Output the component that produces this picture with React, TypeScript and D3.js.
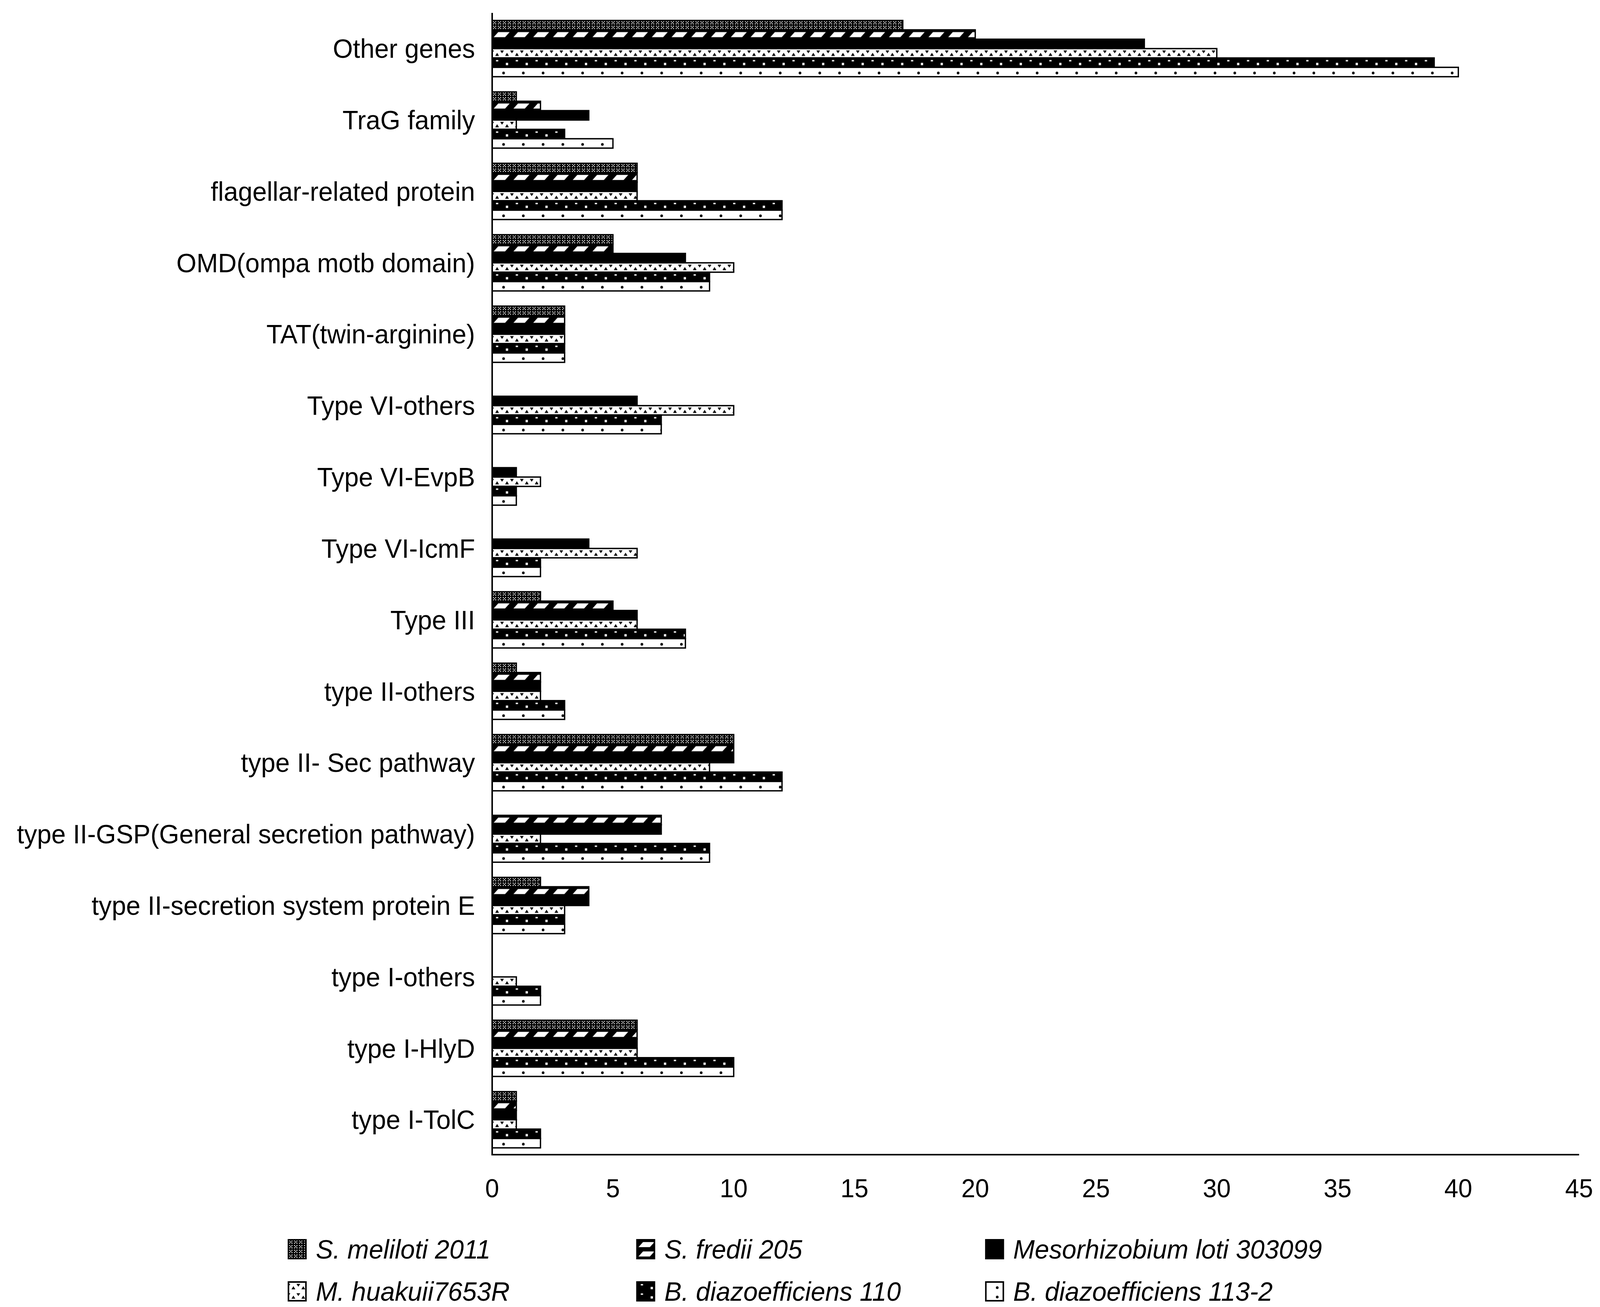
import { useEffect } from "react"
import * as d3 from "d3"

// categories, top to bottom
const categories = [
  "Other genes",
  "TraG family",
  "flagellar-related protein",
  "OMD(ompa motb domain)",
  "TAT(twin-arginine)",
  "Type VI-others",
  "Type VI-EvpB",
  "Type VI-IcmF",
  "Type III",
  "type II-others",
  "type II- Sec pathway",
  "type II-GSP(General secretion pathway)",
  "type II-secretion system protein E",
  "type I-others",
  "type I-HlyD",
  "type I-TolC",
]

const seriesNames = [
  "S. meliloti 2011",
  "S. fredii 205",
  "Mesorhizobium loti 303099",
  "M. huakuii7653R",
  "B. diazoefficiens 110",
  "B. diazoefficiens 113-2",
]

const meliloti = [17, 1, 6, 5, 3, 0, 0, 0, 2, 1, 10, 0, 2, 0, 6, 1]
const fredii = [20, 2, 6, 5, 3, 0, 0, 0, 5, 2, 10, 7, 4, 0, 6, 1]
const loti = [27, 4, 6, 8, 3, 6, 1, 4, 6, 2, 10, 7, 4, 0, 6, 1]
const huakuii = [30, 1, 6, 10, 3, 10, 2, 6, 6, 2, 9, 2, 3, 1, 6, 1]
const diaz110 = [39, 3, 12, 9, 3, 7, 1, 2, 8, 3, 12, 9, 3, 2, 10, 2]
const diaz113 = [40, 5, 12, 9, 3, 7, 1, 2, 8, 3, 12, 9, 3, 2, 10, 2]

const xTicks = [0, 5, 10, 15, 20, 25, 30, 35, 40, 45]

const seriesValues = [meliloti, fredii, loti, huakuii, diaz110, diaz113]
const patternIds = ["pMel", "pFre", "pLot", "pHua", "p110", "p113"]

const W = 4210
const H = 3346
const FONT = "'Liberation Sans', Arial, sans-serif"

export default function App() {
  useEffect(() => {
    document.body.style.margin = "0"
    document.documentElement.style.overflow = "hidden"
  }, [])

  const x = d3.scaleLinear().domain([0, 45]).range([1295, 4155])
  const y = d3.scaleBand().domain(categories).range([33, 2958]).padding(0)
  const inner = d3
    .scaleBand()
    .domain(seriesNames)
    .range([0, y.bandwidth()])
    .paddingInner(0)
    .paddingOuter(0.81)
  const bh = inner.bandwidth()

  const legendCols = [759, 1676, 2594]
  const legendRows = [3198, 3306]

  return (
    <svg
      viewBox={`0 0 ${W} ${H}`}
      preserveAspectRatio="none"
      style={{
        position: "fixed",
        left: 0,
        top: 0,
        width: "100%",
        height: "100%",
        background: "#fff",
      }}
      fontFamily={FONT}
    >
      <defs>
        {/* crosshatch-like: black with white x marks */}
        <pattern id="pMel" patternUnits="userSpaceOnUse" width={13} height={bh / 2}>
          <rect width={13} height={bh / 2} fill="#000" />
          <rect x={2} y={1.5} width={2.5} height={2.5} fill="#fff" />
          <rect x={8} y={1.5} width={2.5} height={2.5} fill="#fff" />
          <rect x={5} y={4.5} width={2.5} height={2.5} fill="#fff" />
          <rect x={2} y={7.5} width={2.5} height={2.5} fill="#fff" />
          <rect x={8} y={7.5} width={2.5} height={2.5} fill="#fff" />
        </pattern>
        {/* wide diagonal parallelograms */}
        <pattern id="pFre" patternUnits="userSpaceOnUse" width={52} height={bh}>
          <rect width={52} height={bh} fill="#000" />
          <polygon
            points={`4,${bh * 0.78} 16,${bh * 0.24} 46,${bh * 0.24} 34,${bh * 0.78}`}
            fill="#fff"
          />
        </pattern>
        <pattern id="pLot" patternUnits="userSpaceOnUse" width={10} height={bh}>
          <rect width={10} height={bh} fill="#000" />
        </pattern>
        {/* white with small black triangles */}
        <pattern id="pHua" patternUnits="userSpaceOnUse" width={26} height={bh}>
          <rect width={26} height={bh} fill="#fff" />
          <polygon points={`0,${bh * 0.2} 5,${bh * 0.2} 0,${bh * 0.5}`} fill="#000" />
          <polygon points={`26,${bh * 0.2} 21,${bh * 0.2} 26,${bh * 0.5}`} fill="#000" />
          <polygon points={`13,${bh * 0.45} 18,${bh * 0.78} 8,${bh * 0.78}`} fill="#000" />
        </pattern>
        {/* black with small white dots */}
        <pattern id="p110" patternUnits="userSpaceOnUse" width={52} height={bh}>
          <rect width={52} height={bh} fill="#000" />
          <rect x={10} y={bh * 0.22} width={6} height={3.5} fill="#fff" />
          <rect x={36} y={bh * 0.52} width={6} height={6} fill="#fff" />
        </pattern>
        {/* white with small black dots */}
        <pattern id="p113" patternUnits="userSpaceOnUse" width={52} height={bh}>
          <rect width={52} height={bh} fill="#fff" />
          <circle cx={30} cy={bh * 0.6} r={3.5} fill="#000" />
        </pattern>
      </defs>

      <rect width={W} height={H} fill="#fff" />

      {/* bars */}
      {categories.map((cat, ci) => (
        <g key={cat}>
          {seriesNames.map((s, si) => {
            const v = seriesValues[si][ci]
            if (!v) return null
            const by = (y(cat) || 0) + (inner(s) || 0)
            return (
              <g key={s} transform={`translate(${x(0)},${by})`}>
                <rect
                  x={0}
                  y={0}
                  width={x(v) - x(0)}
                  height={bh}
                  fill={`url(#${patternIds[si]})`}
                  stroke="#000"
                  strokeWidth={3.5}
                />
              </g>
            )
          })}
        </g>
      ))}

      {/* axes */}
      <line x1={x(0)} x2={x(0)} y1={33} y2={2958} stroke="#000" strokeWidth={4} />
      <line x1={x(0)} x2={x(45)} y1={2956} y2={2956} stroke="#000" strokeWidth={4} />

      {/* category labels */}
      {categories.map((cat) => (
        <text
          key={cat}
          x={1250}
          y={(y(cat) || 0) + y.bandwidth() / 2}
          textAnchor="end"
          dominantBaseline="central"
          fontSize={68}
          fill="#000"
        >
          {cat}
        </text>
      ))}

      {/* x tick labels */}
      {xTicks.map((t) => (
        <text
          key={t}
          x={x(t)}
          y={3042}
          textAnchor="middle"
          dominantBaseline="central"
          fontSize={66}
          fill="#000"
        >
          {t}
        </text>
      ))}

      {/* legend */}
      {seriesNames.map((s, si) => {
        const lx = legendCols[si % 3]
        const ly = legendRows[Math.floor(si / 3)]
        return (
          <g key={s}>
            <g transform={`translate(${lx},${ly - 24})`}>
              <rect
                width={46}
                height={48}
                fill={`url(#${patternIds[si]})`}
                stroke="#000"
                strokeWidth={4}
              />
            </g>
            <text
              x={lx + 72}
              y={ly}
              dominantBaseline="central"
              fontSize={68}
              fontStyle="italic"
              fill="#000"
            >
              {s}
            </text>
          </g>
        )
      })}
    </svg>
  )
}
